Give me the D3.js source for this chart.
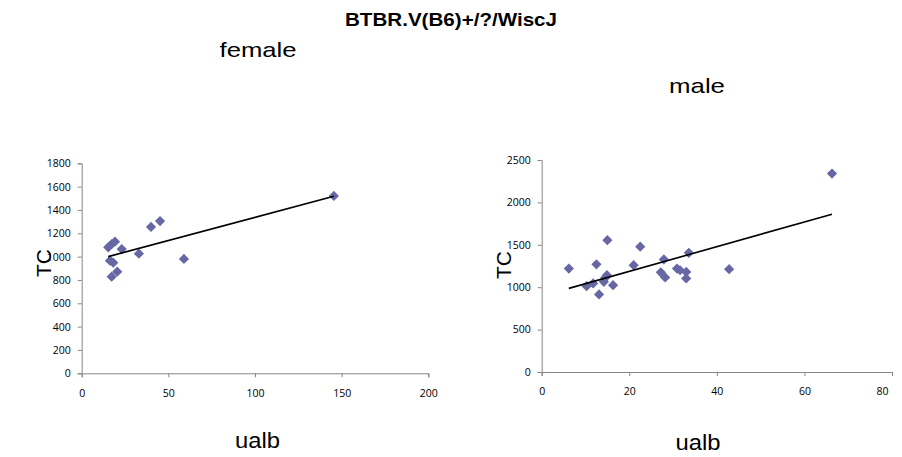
<!DOCTYPE html>
<html>
<head>
<meta charset="utf-8">
<script src="https://cdn.jsdelivr.net/npm/d3@7"></script>
<style>
  html, body { margin: 0; padding: 0; background: #ffffff; }
  svg { display: block; }
  .tick text { font-family: "Open Sans", "Liberation Sans", sans-serif; font-size: 10.5px; fill: #000; }
</style>
</head>
<body>
<svg id="chart" width="902" height="457"></svg>
<script>
// ---- data ----
const chartTitle = "BTBR.V(B6)+/?/WiscJ";
const panelTitles = ["female", "male"];
const xAxisTitle = "ualb";
const yAxisTitle = "TC";

const femaleUalb = [145.5, 45.2, 40, 19.2, 17.3, 15.3, 23.1, 33, 59, 16.3, 18.2, 20.5, 17.3];
const femaleTC   = [1520, 1305, 1255, 1128, 1108, 1080, 1065, 1025, 980, 965, 948, 871, 828];

const maleUalb = [66.3, 6.2, 12.5, 15, 22.5, 21, 27.9, 33.6, 42.8, 27.2, 28.2, 30.9, 31.6, 33, 33, 14.9, 14.2, 16.3, 10.25, 11.75, 13.1, 14.5];
const maleTC   = [2340, 1220, 1270, 1555, 1478, 1260, 1327, 1405, 1213, 1175, 1115, 1220, 1200, 1180, 1103, 1142, 1063, 1024, 1012, 1044, 915, 1110];

const femaleXTicks = [0, 50, 100, 150, 200];
const femaleYTicks = [0, 200, 400, 600, 800, 1000, 1200, 1400, 1600, 1800];
const maleXTicks = [0, 20, 40, 60, 80];
const maleYTicks = [0, 500, 1000, 1500, 2000, 2500];

// ---- drawing ----
const svg = d3.select("#chart");
const axisColor = "#868686";
const markerColor = "#6767a6";

svg.append("text")
  .attr("x", 451).attr("y", 26)
  .attr("text-anchor", "middle")
  .attr("textLength", 212).attr("lengthAdjust", "spacingAndGlyphs")
  .style("font-family", "'Liberation Sans', Arial, sans-serif")
  .style("font-weight", "bold").style("font-size", "18.5px")
  .text(chartTitle);

const panels = [
  { xs: femaleUalb, ys: femaleTC, xTicks: femaleXTicks, yTicks: femaleYTicks,
    xr: [81.7, 428.3], yr: [373.3, 163.3], lastShift: 0,
    title: panelTitles[0], titleX: 258, titleY: 57, titleLen: 77,
    xtX: 257.5, xtY: 448, ytX: 51, ytY: 263 },
  { xs: maleUalb, ys: maleTC, xTicks: maleXTicks, yTicks: maleYTicks,
    xr: [541.7, 892], yr: [372, 160], lastShift: -10,
    title: panelTitles[1], titleX: 697, titleY: 93, titleLen: 56,
    xtX: 698, xtY: 450, ytX: 511, ytY: 265 }
];

panels.forEach(p => {
  const x = d3.scaleLinear().domain([p.xTicks[0], p.xTicks[p.xTicks.length - 1]]).range(p.xr);
  const y = d3.scaleLinear().domain([p.yTicks[0], p.yTicks[p.yTicks.length - 1]]).range(p.yr);
  const g = svg.append("g");

  // axes
  const yAxis = d3.axisLeft(y).tickValues(p.yTicks).tickSize(4).tickPadding(7).tickFormat(d3.format("d"));
  const xAxis = d3.axisBottom(x).tickValues(p.xTicks).tickSize(4).tickPadding(12).tickFormat(d3.format("d"));
  const gy = g.append("g").attr("transform", `translate(${p.xr[0]},0)`).call(yAxis);
  const gx = g.append("g").attr("transform", `translate(0,${p.yr[0]})`).call(xAxis);
  [gx, gy].forEach(a => {
    a.select(".domain").attr("stroke", axisColor).attr("stroke-width", 1);
    a.selectAll(".tick line").attr("stroke", axisColor);
  });
  // Excel nudges an edge label inward to keep it inside the chart area
  gx.selectAll(".tick text").filter((d, i, nodes) => i === nodes.length - 1)
    .attr("dx", p.lastShift);

  // trend line (least squares)
  const n = p.xs.length;
  const mx = d3.mean(p.xs), my = d3.mean(p.ys);
  let sxy = 0, sxx = 0;
  for (let i = 0; i < n; i++) { sxy += (p.xs[i] - mx) * (p.ys[i] - my); sxx += (p.xs[i] - mx) ** 2; }
  const slope = sxy / sxx, icpt = my - slope * mx;
  const [x0, x1] = d3.extent(p.xs);

  // markers
  const sym = d3.symbol().type(d3.symbolSquare).size(52);
  g.append("g").selectAll("path").data(p.xs.map((v, i) => [v, p.ys[i]])).join("path")
    .attr("d", sym)
    .attr("transform", d => `translate(${x(d[0])},${y(d[1])}) rotate(45)`)
    .attr("fill", markerColor);

  g.append("line")
    .attr("x1", x(x0)).attr("y1", y(icpt + slope * x0))
    .attr("x2", x(x1)).attr("y2", y(icpt + slope * x1))
    .attr("stroke", "#000").attr("stroke-width", 1.6);

  // titles
  g.append("text").attr("x", p.titleX).attr("y", p.titleY)
    .attr("text-anchor", "middle")
    .attr("textLength", p.titleLen).attr("lengthAdjust", "spacingAndGlyphs")
    .style("font-family", "'Liberation Sans', Arial, sans-serif").style("font-size", "21px")
    .text(p.title);
  g.append("text").attr("x", p.xtX).attr("y", p.xtY)
    .attr("text-anchor", "middle")
    .attr("textLength", 45).attr("lengthAdjust", "spacingAndGlyphs")
    .style("font-family", "'Liberation Sans', Arial, sans-serif").style("font-size", "22px")
    .text(xAxisTitle);
  g.append("text")
    .attr("transform", `translate(${p.ytX},${p.ytY}) rotate(-90)`)
    .attr("text-anchor", "middle")
    .style("font-family", "'Liberation Sans', Arial, sans-serif").style("font-size", "21px")
    .text(yAxisTitle);
});
</script>
</body>
</html>
